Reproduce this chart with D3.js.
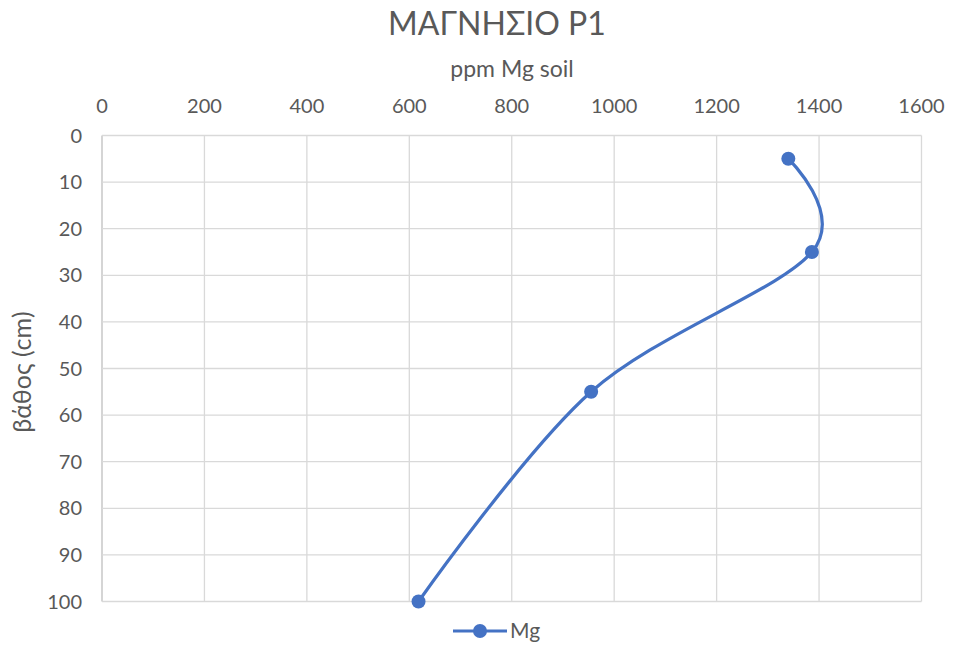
<!DOCTYPE html>
<html><head><meta charset="utf-8">
<script src="https://cdn.jsdelivr.net/npm/d3@7"></script>
<style>body{margin:0;background:#fff}svg text{font-family:Lato,"Open Sans",sans-serif;fill:#595959}</style>
</head><body>
<svg id="c" width="953" height="650"></svg>
<script>
const depths = [5, 25, 55, 100];
const mgValues = [1340, 1386, 955, 618];
const xTicks = [0, 200, 400, 600, 800, 1000, 1200, 1400, 1600];
const yTicks = [0, 10, 20, 30, 40, 50, 60, 70, 80, 90, 100];
const title = "ΜΑΓΝΗΣΙΟ P1";
const xTitle = "ppm Mg soil";
const yTitle = "βάθος (cm)";
const seriesName = "Mg";

const svg = d3.select("#c");
const L = 102, R = 921.5, T = 135.5, B = 601.5;
const x = d3.scaleLinear().domain([0, 1600]).range([L, R]);
const y = d3.scaleLinear().domain([0, 100]).range([T, B]);
const color = "#4472C4";

const g = svg.append("g");
g.selectAll(".vg").data(xTicks).join("line")
  .attr("x1", d => x(d)).attr("x2", d => x(d)).attr("y1", T).attr("y2", B)
  .attr("stroke", d => d === 0 ? "#bfbfbf" : "#d9d9d9").attr("stroke-width", 1.3);
g.selectAll(".hg").data(yTicks).join("line")
  .attr("x1", L).attr("x2", R).attr("y1", d => y(d)).attr("y2", d => y(d))
  .attr("stroke", "#d9d9d9").attr("stroke-width", 1.3);

g.selectAll(".xt").data(xTicks).join("text")
  .attr("x", d => x(d)).attr("y", 113).attr("text-anchor", "middle")
  .attr("font-size", 20).text(d => d);
g.selectAll(".yt").data(yTicks).join("text")
  .attr("x", 82).attr("y", d => y(d) + 7).attr("text-anchor", "end")
  .attr("font-size", 20).text(d => d);

svg.append("text").attr("x", 497).attr("y", 35).attr("text-anchor", "middle")
  .attr("font-size", 32).text(title);
svg.append("text").attr("x", 512).attr("y", 77).attr("text-anchor", "middle")
  .attr("font-size", 23).text(xTitle);
svg.append("text").attr("transform", "translate(31,372) rotate(-90)")
  .attr("text-anchor", "middle").attr("font-size", 25).text(yTitle);

const pts = mgValues.map((v, i) => [x(v), y(depths[i])]);
svg.append("path").attr("d", d3.line().curve(d3.curveCatmullRom.alpha(0))(pts))
  .attr("fill", "none").attr("stroke", color).attr("stroke-width", 3.2);
svg.selectAll(".pt").data(pts).join("circle")
  .attr("cx", d => d[0]).attr("cy", d => d[1]).attr("r", 7).attr("fill", color);

const lg = svg.append("g");
lg.append("line").attr("x1", 453).attr("x2", 507).attr("y1", 631).attr("y2", 631)
  .attr("stroke", color).attr("stroke-width", 3.2);
lg.append("circle").attr("cx", 480).attr("cy", 631).attr("r", 7).attr("fill", color);
lg.append("text").attr("x", 510).attr("y", 638).attr("font-size", 21).text(seriesName);
</script>
</body></html>
